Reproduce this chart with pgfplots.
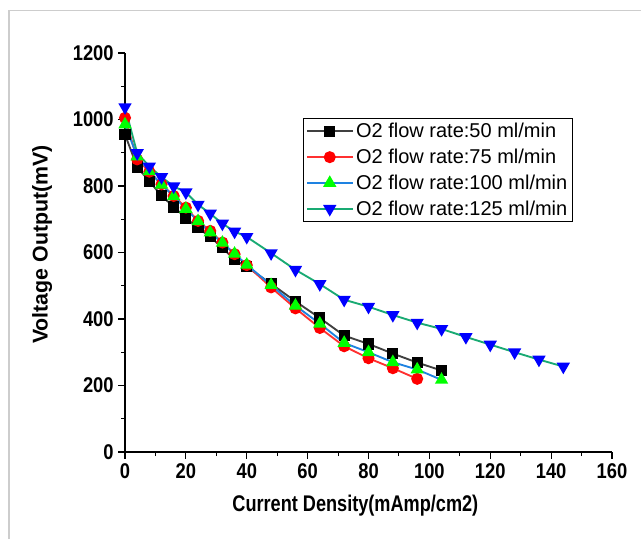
\documentclass[border=0pt]{standalone}
\usepackage{fontspec}
\setmainfont{Liberation Sans}
\newfontfamily\narrowsans[FakeStretch=0.86]{Liberation Sans}
\newfontfamily\labelsans[FakeStretch=0.8]{Liberation Sans}
\usepackage{pgfplots}
\pgfplotsset{compat=1.18}
\usepackage{pgfplotstable}

\definecolor{lineblack}{RGB}{64,64,64}
\definecolor{linered}{RGB}{255,48,48}
\definecolor{lineblue}{RGB}{30,130,225}
\definecolor{lineteal}{RGB}{25,170,115}
\definecolor{framegray}{RGB}{205,205,205}

% Current density (mAmp/cm2) vs. voltage output (mV)
\pgfplotstableread{
x y
0 955
4 857
8 814
12 771
16 737
20 704
24 674
28 647
32 614
36 578
40 557
48 506
56 453
64 403
72 350
80 325
88 296
96 269
104 245
}\flowfifty
\pgfplotstableread{
x y
0 1005
4 880
8 843
12 805
16 770
20 735
24 695
28 665
32 630
36 595
40 562
48 495
56 432
64 373
72 318
80 282
88 252
96 220
}\flowseventyfive
\pgfplotstableread{
x y
0 985
4 889
8 844
12 804
16 769
20 731
24 694
28 660
32 629
36 596
40 563
48 502
56 440
64 386
72 328
80 300
88 270
96 248
104 217
}\flowhundred
\pgfplotstableread{
x y
0 1037
4 899
8 859
12 827
16 799
20 781
24 744
28 717
32 687
36 663
40 647
48 598
56 548
64 505
72 458
80 437
88 412
96 389
104 370
112 346
120 323
128 300
136 278
144 257
}\flowhundredtwentyfive

\begin{document}
\begin{tikzpicture}
\useasboundingbox (0pt,0pt) rectangle (480.75pt,404.25pt);
\draw[framegray, line width=0.8pt] (6.75pt,0pt) -- (6.75pt,396.5pt) -- (480.75pt,396.5pt);
\begin{axis}[
  at={(93.75pt,65.25pt)}, anchor=south west,
  scale only axis, width=365.25pt, height=299.25pt,
  axis lines=left, axis line style={-, line width=0.9pt},
  xmin=0, xmax=160, ymin=0, ymax=1200,
  xtick={0,20,...,160}, ytick={0,200,...,1200},
  minor x tick num=1, minor y tick num=1,
  tick align=outside,
  major tick length=5pt, minor tick length=3pt,
  tick style={black, line width=0.8pt},
  /pgf/number format/assume math mode=true,
  /pgf/number format/1000 sep={},
  tick label style={font=\narrowsans\bfseries\fontsize{16}{16}\selectfont},
  xlabel={Current Density(mAmp/cm2)},
  ylabel={Voltage Output(mV)},
  xlabel style={font=\labelsans\bfseries\fontsize{17}{17}\selectfont,
    at={(axis description cs:0.473,-0.135)}, anchor=center},
  ylabel style={font=\bfseries\fontsize{16}{16}\selectfont,
    at={(axis description cs:-0.170,0.52)}, anchor=center},
  legend style={at={(rel axis cs:0.3655,0.837)}, anchor=north west,
    font=\fontsize{15}{15}\selectfont, draw=black, line width=0.6pt,
    inner xsep=2pt, inner ysep=1.5pt, row sep=3pt},
  legend cell align=left,
  legend image code/.code={
    \draw[mark repeat=2, mark phase=2, #1]
      plot coordinates {(0cm,0cm) (0.6cm,0cm) (1.2cm,0cm)};},
  every axis plot/.append style={line width=1.4pt},
]
\addplot[lineblack, mark=square*, mark size=3.5pt,
  mark options={solid, fill=black, draw=black}] table {\flowfifty};
\addlegendentry{O2 flow rate:50 ml/min}
\addplot[linered, mark=*, mark size=3.8pt,
  mark options={solid, fill=red, draw=red}] table {\flowseventyfive};
\addlegendentry{O2 flow rate:75 ml/min}
\addplot[lineblue, mark=triangle*, mark size=4.4pt,
  mark options={solid, fill=green, draw=green}] table {\flowhundred};
\addlegendentry{O2 flow rate:100 ml/min}
\addplot[lineteal, mark=triangle*, mark size=4.4pt,
  mark options={solid, fill=blue, draw=blue, rotate=180}] table {\flowhundredtwentyfive};
\addlegendentry{O2 flow rate:125 ml/min}
\end{axis}
\end{tikzpicture}
\end{document}
